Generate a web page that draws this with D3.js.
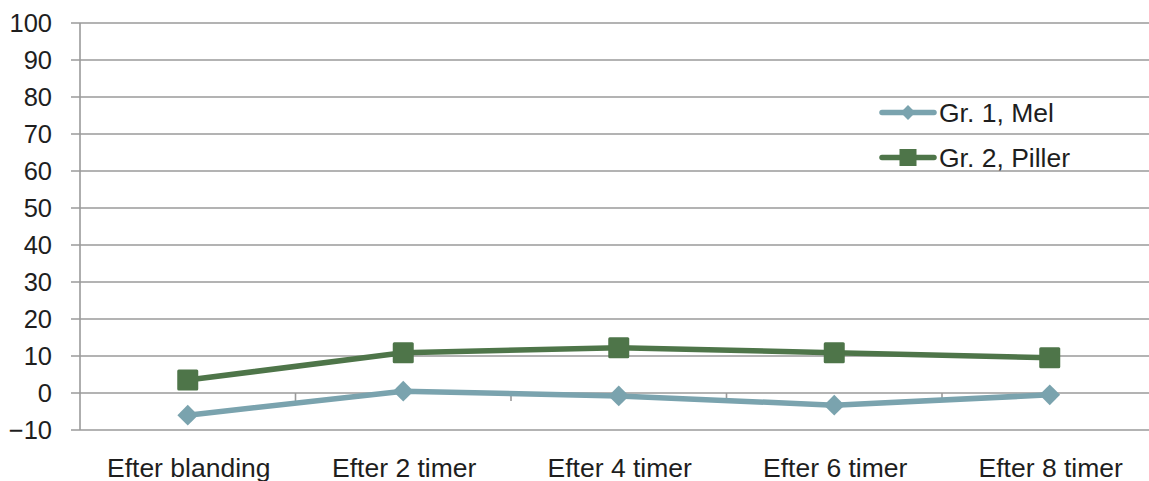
<!DOCTYPE html>
<html>
<head>
<meta charset="utf-8">
<script src="https://cdn.jsdelivr.net/npm/d3@7"></script>
<style>
  html, body { margin: 0; padding: 0; background: #fff; }
  svg { display: block; font-family: "Liberation Sans", Arial, sans-serif; }
</style>
</head>
<body>
<svg id="chart" width="1149" height="481"></svg>
<script>
// Time points after mixing
const categories = ["Efter blanding", "Efter 2 timer", "Efter 4 timer", "Efter 6 timer", "Efter 8 timer"];
// Group 1 (flour) and group 2 (pills)
const melValues = [-6, 0.5, -0.8, -3.3, -0.5];
const pillerValues = [3.5, 10.9, 12.2, 10.9, 9.5];
const seriesNames = ["Gr. 1, Mel", "Gr. 2, Piller"];
const yTicks = [-10, 0, 10, 20, 30, 40, 50, 60, 70, 80, 90, 100];

const svg = d3.select("#chart");
const plotLeft = 80, plotRight = 1157.5, plotTop = 23, plotBottom = 430;

const x = d3.scaleBand().domain(categories).range([plotLeft, plotRight]);
const y = d3.scaleLinear().domain([-10, 100]).range([plotBottom, plotTop]);

const gridColor = "#9a9a9a";
const melColor = "#7aa3ae";
const pillerColor = "#4e7549";
const textColor = "#1e1e1e";

// Horizontal gridlines
svg.append("g")
  .selectAll("line")
  .data(yTicks)
  .join("line")
  .attr("x1", plotLeft - 9).attr("x2", plotRight)
  .attr("y1", d => y(d)).attr("y2", d => y(d))
  .attr("stroke", gridColor).attr("stroke-width", 1.6);

// Value axis
const yAxis = svg.append("g")
  .attr("transform", `translate(${plotLeft},0)`)
  .call(d3.axisLeft(y).tickValues(yTicks).tickSize(0).tickPadding(28).tickFormat(d3.format("d")));
yAxis.select(".domain").attr("stroke", gridColor).attr("stroke-width", 1.6)
  .attr("d", `M0,${plotTop}V${plotBottom}`);
yAxis.selectAll("text").attr("font-size", 25.5).attr("fill", textColor).attr("dy", "0.35em")
  .attr("font-family", "Liberation Sans, Arial, sans-serif");

// Category ticks on the zero line
const boundaries = categories.map(c => x(c)).concat([plotRight]);
svg.append("g")
  .selectAll("line")
  .data(boundaries.slice(1))
  .join("line")
  .attr("x1", d => d).attr("x2", d => d)
  .attr("y1", y(0)).attr("y2", y(0) + 8)
  .attr("stroke", gridColor).attr("stroke-width", 1.6);

// Category labels
svg.append("g")
  .selectAll("text")
  .data(categories)
  .join("text")
  .attr("x", d => x(d) + x.bandwidth() / 2 + 1)
  .attr("y", 477)
  .attr("text-anchor", "middle")
  .attr("font-size", 26.5)
  .attr("fill", textColor)
  .text(d => d);

const cx = d => x(d) + x.bandwidth() / 2;
const line = d3.line().x(d => cx(d.cat)).y(d => y(d.v));

const melData = categories.map((c, i) => ({ cat: c, v: melValues[i] }));
const pillerData = categories.map((c, i) => ({ cat: c, v: pillerValues[i] }));

// Flour series
svg.append("path").datum(melData)
  .attr("d", line).attr("fill", "none")
  .attr("stroke", melColor).attr("stroke-width", 5.5).attr("stroke-linejoin", "round");
svg.append("g").selectAll("path")
  .data(melData).join("path")
  .attr("transform", d => `translate(${cx(d.cat)},${y(d.v)}) rotate(45)`)
  .attr("d", d3.symbol(d3.symbolSquare, 215))
  .attr("fill", melColor);

// Pill series
svg.append("path").datum(pillerData)
  .attr("d", line).attr("fill", "none")
  .attr("stroke", pillerColor).attr("stroke-width", 5.5).attr("stroke-linejoin", "round");
svg.append("g").selectAll("rect")
  .data(pillerData).join("rect")
  .attr("x", d => cx(d.cat) - 10.5).attr("y", d => y(d.v) - 10.5)
  .attr("width", 21).attr("height", 21).attr("rx", 1.5)
  .attr("fill", pillerColor);

// Legend
const legend = svg.append("g");
const legendRows = [
  { name: seriesNames[0], color: melColor, type: "diamond", yPos: 112.5 },
  { name: seriesNames[1], color: pillerColor, type: "square", yPos: 157.5 }
];
legendRows.forEach(r => {
  legend.append("line")
    .attr("x1", 882).attr("x2", 934)
    .attr("y1", r.yPos).attr("y2", r.yPos)
    .attr("stroke", r.color).attr("stroke-width", 5.5).attr("stroke-linecap", "round");
  if (r.type === "diamond") {
    legend.append("path")
      .attr("transform", `translate(908,${r.yPos}) rotate(45)`)
      .attr("d", d3.symbol(d3.symbolSquare, 110))
      .attr("fill", r.color);
  } else {
    legend.append("rect")
      .attr("x", 899.5).attr("y", r.yPos - 8.5)
      .attr("width", 17).attr("height", 17)
      .attr("fill", r.color);
  }
  legend.append("text")
    .attr("x", 939).attr("y", r.yPos + 9)
    .attr("font-size", 26.5).attr("fill", textColor)
    .text(r.name);
});
</script>
</body>
</html>
